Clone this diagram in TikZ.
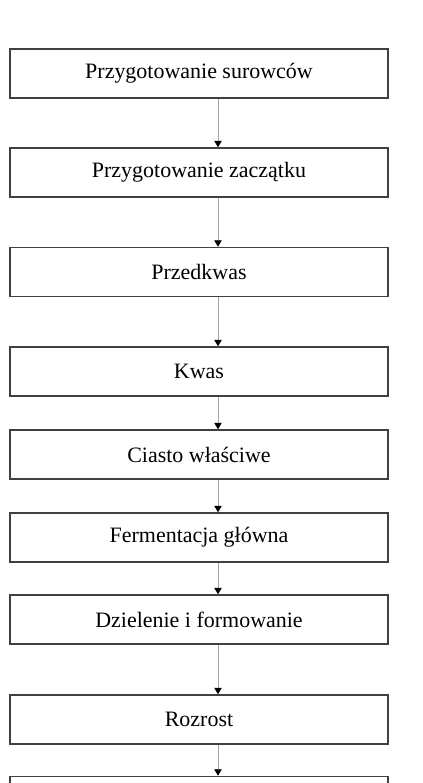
\documentclass[tikz,border=0pt]{standalone}
\usepackage{fontspec}
\setmainfont{Liberation Serif}
\usepackage{tikz}
\usetikzlibrary{arrows.meta}

\begin{document}
\begin{tikzpicture}[
        stage/.style={draw=black!75, line width=0.06cm, minimum width=15.12cm, minimum height=1.96cm,
            inner sep=0pt, font=\fontsize{25}{29}\selectfont},
        flow/.style={draw=black!35, line width=0.035cm, -{Triangle[width=0.3cm, length=0.26cm, black]}}
    ]
        \useasboundingbox (0,0) rectangle (16.88,-31.32);
        \clip (0,0) rectangle (16.88,-31.32);

        % Stages
        \node[stage] (surowce) at (7.96,-2.94) {Przygotowanie surowców};
        \node[stage] (zaczatek) at (7.96,-6.90) {Przygotowanie zaczątku};
        \node[stage] (przedkwas) at (7.96,-10.88) {Przedkwas};
        \node[stage] (kwas) at (7.96,-14.86) {Kwas};
        \node[stage] (ciasto) at (7.96,-18.18) {Ciasto właściwe};
        \node[stage] (fermentacja) at (7.96,-21.50) {Fermentacja główna};
        \node[stage] (dzielenie) at (7.96,-24.78) {Dzielenie i formowanie};
        \node[stage] (rozrost) at (7.96,-28.78) {Rozrost};
        \node[stage] (wypiek) at (7.96,-32.04) {};

        % Arrows
        \draw[flow] ([xshift=0.76cm]surowce.south) -- ([xshift=0.76cm]zaczatek.north);
        \draw[flow] ([xshift=0.76cm]zaczatek.south) -- ([xshift=0.76cm]przedkwas.north);
        \draw[flow] ([xshift=0.76cm]przedkwas.south) -- ([xshift=0.76cm]kwas.north);
        \draw[flow] ([xshift=0.76cm]kwas.south) -- ([xshift=0.76cm]ciasto.north);
        \draw[flow] ([xshift=0.76cm]ciasto.south) -- ([xshift=0.76cm]fermentacja.north);
        \draw[flow] ([xshift=0.76cm]fermentacja.south) -- ([xshift=0.76cm]dzielenie.north);
        \draw[flow] ([xshift=0.76cm]dzielenie.south) -- ([xshift=0.76cm]rozrost.north);
        \draw[flow] ([xshift=0.76cm]rozrost.south) -- ([xshift=0.76cm]wypiek.north);
    \end{tikzpicture}
\end{document}
